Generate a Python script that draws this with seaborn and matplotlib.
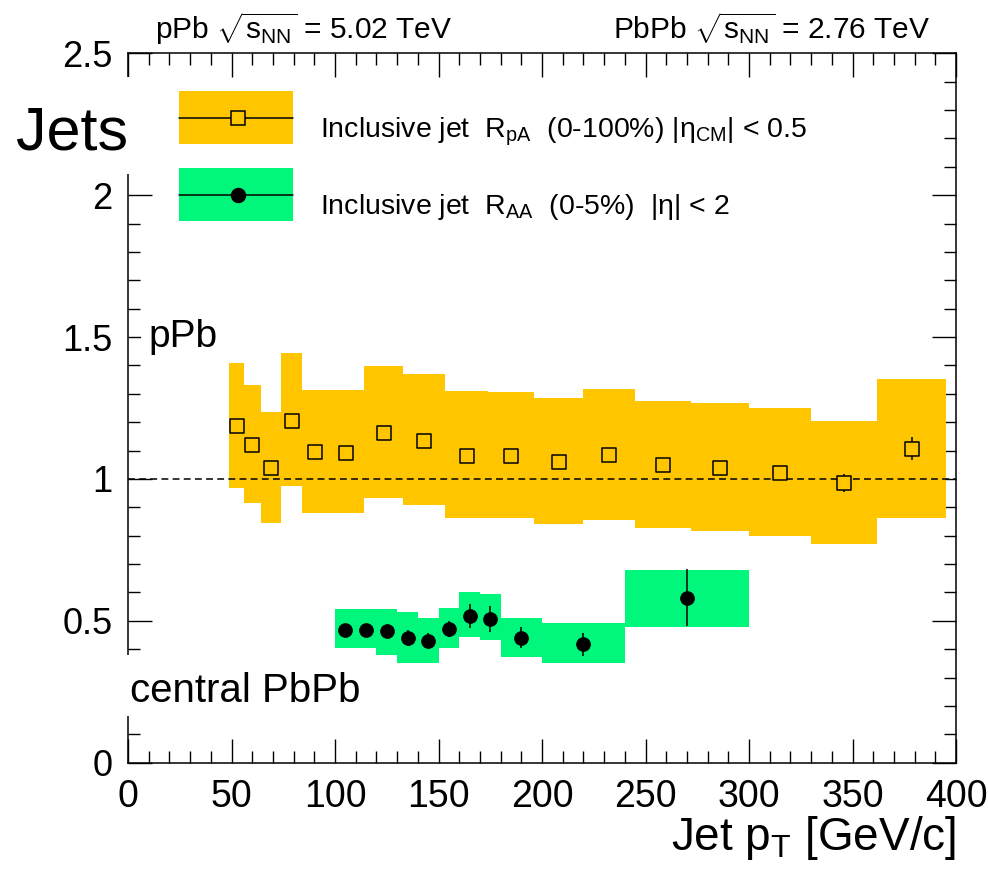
import numpy as np
import pandas as pd
import matplotlib
matplotlib.use("Agg")
import matplotlib.pyplot as plt
import seaborn as sns
from matplotlib.patches import Rectangle
from matplotlib.lines import Line2D
from matplotlib.ticker import MultipleLocator

# ---- pPb inclusive jet R_pA (0-100%), |eta_CM| < 0.5 ----
ppb_edges = [49, 56, 64, 74, 84, 97, 114, 133, 153, 174, 196, 220, 245, 272, 300, 330, 362, 395]
ppb_rpa = [1.186, 1.118, 1.040, 1.204, 1.096, 1.090, 1.163, 1.135, 1.080,
           1.080, 1.061, 1.084, 1.050, 1.040, 1.022, 0.987, 1.107]
ppb_stat = [0.012, 0.012, 0.012, 0.012, 0.012, 0.012, 0.012, 0.012, 0.012,
            0.012, 0.012, 0.012, 0.014, 0.016, 0.020, 0.032, 0.041]
ppb_sys_hi = [1.409, 1.330, 1.235, 1.443, 1.313, 1.313, 1.398, 1.371, 1.309,
              1.307, 1.284, 1.318, 1.273, 1.266, 1.250, 1.205, 1.352]
ppb_sys_lo = [0.969, 0.914, 0.846, 0.976, 0.881, 0.881, 0.934, 0.908, 0.861,
              0.862, 0.840, 0.854, 0.828, 0.816, 0.800, 0.772, 0.861]

# ---- PbPb inclusive jet R_AA (0-5%), |eta| < 2 ----
pbpb_edges = [100, 110, 120, 130, 140, 150, 160, 170, 180, 200, 240, 300]
pbpb_raa = [0.468, 0.468, 0.464, 0.440, 0.429, 0.470, 0.517, 0.507, 0.440, 0.417, 0.581]
pbpb_stat = [0.015, 0.015, 0.015, 0.028, 0.028, 0.028, 0.043, 0.047, 0.037, 0.040, 0.100]
pbpb_sys_hi = [0.542, 0.542, 0.542, 0.532, 0.509, 0.547, 0.600, 0.593, 0.509, 0.491, 0.679]
pbpb_sys_lo = [0.403, 0.403, 0.380, 0.352, 0.352, 0.403, 0.442, 0.432, 0.374, 0.352, 0.479]

x_ticks = [0, 50, 100, 150, 200, 250, 300, 350, 400]
y_ticks = [0, 0.5, 1, 1.5, 2, 2.5]
y_tick_labels = ["0", "0.5", "1", "1.5", "2", "2.5"]

ORANGE = "#FFC600"
GREEN = "#00F77C"

sns.set_theme(style="ticks")
plt.rcParams["font.family"] = ["Liberation Sans", "DejaVu Sans"]
plt.rcParams["mathtext.fontset"] = "custom"
plt.rcParams["mathtext.default"] = "regular"
for key in ("text.color", "axes.labelcolor", "xtick.color", "ytick.color", "axes.edgecolor"):
    plt.rcParams[key] = "black"


def bin_centers(edges):
    e = np.asarray(edges, dtype=float)
    return 0.5 * (e[:-1] + e[1:])


ppb = pd.DataFrame({"pt": bin_centers(ppb_edges), "r": ppb_rpa, "err": ppb_stat})
pbpb = pd.DataFrame({"pt": bin_centers(pbpb_edges), "r": pbpb_raa, "err": pbpb_stat})

fig = plt.figure(figsize=(9.88, 8.75), dpi=100)
ax = fig.add_axes([0.1296, 0.1283, 0.8381, 0.8108])

# systematic uncertainty boxes drawn as stepped bands
def band(edges, lo, hi, color):
    ax.fill_between(edges, list(lo) + [lo[-1]], list(hi) + [hi[-1]],
                    step="post", color=color, linewidth=0, zorder=3)

band(ppb_edges, ppb_sys_lo, ppb_sys_hi, ORANGE)
band(pbpb_edges, pbpb_sys_lo, pbpb_sys_hi, GREEN)

ax.axhline(1.0, color="black", lw=1.1, ls=(0, (4.5, 2.8)), zorder=4)

# statistical errors
ax.errorbar(ppb["pt"], ppb["r"], yerr=ppb["err"], fmt="none", ecolor="black",
            elinewidth=1.1, capsize=0, zorder=5)
ax.errorbar(pbpb["pt"], pbpb["r"], yerr=pbpb["err"], fmt="none", ecolor="black",
            elinewidth=1.1, capsize=0, zorder=5)

# markers
sns.scatterplot(data=ppb, x="pt", y="r", ax=ax, marker="s", s=88,
                facecolor=ORANGE, edgecolor="black", linewidth=1.1, zorder=6)
sns.scatterplot(data=pbpb, x="pt", y="r", ax=ax, marker="o", s=100,
                color="black", edgecolor="black", linewidth=0.5, zorder=6)

ax.set_xlim(0, 400)
ax.set_ylim(0, 2.5)
ax.set_xlabel("")
ax.set_ylabel("")
ax.set_xticks(x_ticks)
ax.set_xticklabels([str(v) for v in x_ticks], fontsize=27)
ax.set_yticks(y_ticks)
ax.set_yticklabels(y_tick_labels, fontsize=26)
ax.xaxis.set_minor_locator(MultipleLocator(10))
ax.yaxis.set_minor_locator(MultipleLocator(0.1))
ax.tick_params(which="both", direction="in", top=True, right=True, width=1.0, color="black")
ax.tick_params(which="major", length=17)
ax.tick_params(which="minor", length=8.6)
ax.tick_params(axis="x", which="major", pad=12)
ax.tick_params(axis="y", which="major", pad=11)
for sp in ax.spines.values():
    sp.set_visible(True)
    sp.set_linewidth(1.1)
    sp.set_color("black")

# axis title
ax.text(1.0, (762.7 - 850) / 709.4, r"Jet p$_{T}$ [GeV/c]", transform=ax.transAxes,
        ha="right", va="baseline", fontsize=33)

# legend
def legend_row(y_lo, y_hi, color, marker, mfc, text, y_text):
    ax.add_patch(Rectangle((0.0616, y_lo), 0.138, y_hi - y_lo, transform=ax.transAxes,
                           facecolor=color, edgecolor="none", zorder=7, clip_on=False))
    ym = 0.5 * (y_lo + y_hi)
    ax.add_line(Line2D([0.0616, 0.1996], [ym, ym], transform=ax.transAxes,
                       color="black", lw=1.1, zorder=8))
    ax.plot([0.1325], [ym], transform=ax.transAxes, marker=marker, ms=9.4 if marker == "s" else 10,
            mfc=mfc, mec="black", mew=1.1, zorder=9, clip_on=False)
    ax.text(0.2319, y_text, text, transform=ax.transAxes, ha="left", va="baseline",
            fontsize=20.5, zorder=9)

legend_row(0.8721, 0.9468, ORANGE, "s", ORANGE,
           r"Inclusive jet  R$_{pA}$  (0-100%) |η$_{CM}$| < 0.5", (762.7 - 138) / 709.4)
legend_row(0.7636, 0.8379, GREEN, "o", "black",
           r"Inclusive jet  R$_{AA}$  (0-5%)  |η| < 2", (762.7 - 214) / 709.4)

# collision-system labels above the frame
fig.text(155 / 988, 1 - 39 / 875, r"pPb $\sqrt{s_{NN}}$ = 5.02 TeV", fontsize=21.5,
         ha="left", va="baseline")
fig.text(930 / 988, 1 - 39 / 875, r"PbPb $\sqrt{s_{NN}}$ = 2.76 TeV", fontsize=21.5,
         ha="right", va="baseline")

# white panels that interrupt the left axis behind the annotations
ax.add_patch(Rectangle((-0.16, 0.830), 0.177, 0.1366, transform=ax.transAxes,
                       facecolor="white", edgecolor="none", zorder=2.7, clip_on=False))
ax.add_patch(Rectangle((-0.16, 0.0658), 0.458, 0.086, transform=ax.transAxes,
                       facecolor="white", edgecolor="none", zorder=2.7, clip_on=False))
ax.add_patch(Rectangle((13 / 828, (762.7 - 362) / 709.4), 0.11, 0.07, transform=ax.transAxes,
                       facecolor="white", edgecolor="none", zorder=2.7, clip_on=False))

ax.text(0.0, (762.7 - 150) / 709.4, "Jets", transform=ax.transAxes, ha="right",
        va="baseline", fontsize=44, zorder=2.8, clip_on=False)
ax.text((148 - 128) / 828, (762.7 - 347) / 709.4, "pPb", transform=ax.transAxes,
        ha="left", va="baseline", fontsize=28, zorder=2.8)
ax.text((129.5 - 128) / 828, (762.7 - 701.7) / 709.4, "central PbPb", transform=ax.transAxes,
        ha="left", va="baseline", fontsize=29, zorder=2.8)

fig.savefig("out.png", dpi=100)
